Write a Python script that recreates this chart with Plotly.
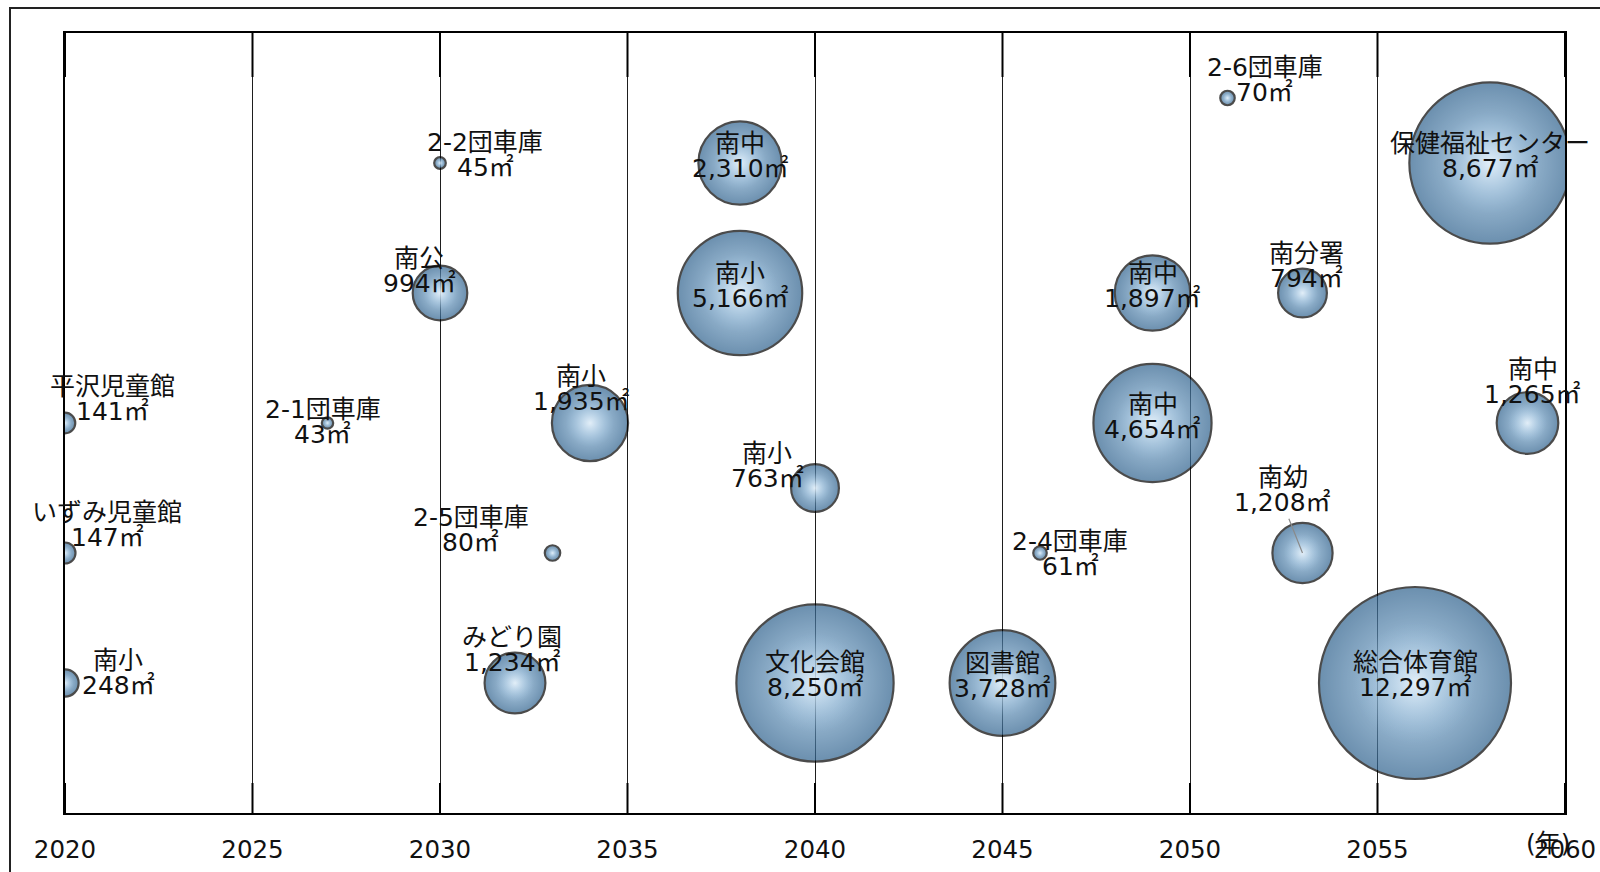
import plotly.graph_objects as go

# ---- data ----
names = ["平沢児童館", "いずみ児童館", "南小", "2-1団車庫", "2-2団車庫", "南公", "2-5団車庫",
         "みどり園", "南小", "南中", "南小", "南小", "文化会館", "図書館", "2-4団車庫",
         "南中", "南中", "2-6団車庫", "南分署", "南幼", "保健福祉センター", "南中", "総合体育館"]
years = [2020, 2020, 2020, 2027, 2030, 2030, 2033,
         2032, 2034, 2038, 2038, 2040, 2040, 2045, 2046,
         2049, 2049, 2051, 2053, 2053, 2058, 2059, 2056]
levels = [3, 2, 1, 3, 5, 4, 2,
          1, 3, 5, 4, 2.5, 1, 1, 2,
          4, 3, 5.5, 4, 2, 5, 3, 1]
areas = [141, 147, 248, 43, 45, 994, 80,
         1234, 1935, 2310, 5166, 763, 8250, 3728, 61,
         1897, 4654, 70, 794, 1208, 8677, 1265, 12297]
tick_years = [2020, 2025, 2030, 2035, 2040, 2045, 2050, 2055, 2060]
tick_text = [str(t) for t in tick_years]

# ---- label placement (pixels: right, up) ----
label_dx = [47, 42, 53, -5, 45, -21, -82, -3, -9, 0, 0, -48, 0, 0, 30, 0, 0, 37, 4, -20, 0, 5, 0]
label_dy = [24, 28, 10, 1, 8, 22, 23, 33, 34, 7, 7, 22, 8, 7, -1, 7, 6, 18, 27, 63, 7, 41, 8]
leader = [False] * len(names)
leader[19] = True

FONT = "DejaVu Sans, Noto Sans CJK JP, sans-serif"
FS = 25
MAX_D = 192
sizeref = 2.0 * max(areas) / (MAX_D ** 2)
highlight_areas = [a * 0.4 for a in areas]

fig = go.Figure()
# sphere body
fig.add_trace(go.Scatter(
    x=years, y=levels, mode="markers",
    marker=dict(size=areas, sizemode="area", sizeref=sizeref,
                color="#2e618d",
                gradient=dict(type="radial", color="#9cc4e4"),
                line=dict(color="#000000", width=2.2)),
    cliponaxis=True, hoverinfo="skip", showlegend=False,
))
# soft highlight
fig.add_trace(go.Scatter(
    x=years, y=levels, mode="markers",
    marker=dict(size=highlight_areas, sizemode="area", sizeref=sizeref,
                color="rgba(156,196,228,0)",
                gradient=dict(type="radial", color="rgba(247,251,254,0.95)"),
                line=dict(width=0)),
    cliponaxis=True, hoverinfo="skip", showlegend=False,
))

LINE_H = 25.5
annotations = []
for n, x, y, a, dx, dy, ld in zip(names, years, levels, areas, label_dx, label_dy, leader):
    annotations.append(dict(
        x=x, y=y, xref="x", yref="y", text=n, showarrow=False,
        xshift=dx, yshift=dy + LINE_H / 2, xanchor="center", yanchor="middle",
        font=dict(family=FONT, size=FS, color="#111")))
    if ld:
        annotations.append(dict(
            x=x, y=y, xref="x", yref="y", text=f"{a:,}㎡", showarrow=True,
            ax=dx, ay=-(dy - LINE_H / 2), axref="pixel", ayref="pixel",
            arrowhead=0, arrowwidth=1.2, arrowcolor="#8a8a8a", standoff=0,
            xanchor="center", yanchor="middle",
            font=dict(family=FONT, size=FS, color="#111")))
    else:
        annotations.append(dict(
            x=x, y=y, xref="x", yref="y", text=f"{a:,}㎡", showarrow=False,
            xshift=dx, yshift=dy - LINE_H / 2, xanchor="center", yanchor="middle",
            font=dict(family=FONT, size=FS, color="#111")))

annotations.append(dict(
    x=0.9893, y=-0.0385, xref="paper", yref="paper", text="(年)", showarrow=False,
    xanchor="center", yanchor="middle", font=dict(family=FONT, size=FS, color="#111")))

PLOT_H = 780.0
shapes = []
for t in tick_years:
    shapes.append(dict(type="line", xref="x", yref="paper", x0=t, x1=t, y0=1, y1=1 - 44 / PLOT_H,
                       line=dict(color="#000", width=2), layer="above"))
    shapes.append(dict(type="line", xref="x", yref="paper", x0=t, x1=t, y0=0, y1=30 / PLOT_H,
                       line=dict(color="#000", width=2), layer="above"))
# outer frame
shapes.append(dict(type="rect", xref="paper", yref="paper",
                   x0=(10 - 65) / 1500, x1=1.04, y0=-0.12, y1=(813 - 8) / PLOT_H,
                   line=dict(color="#222", width=2), fillcolor="rgba(0,0,0,0)", layer="above"))

fig.update_layout(
    width=1600, height=872,
    margin=dict(l=65, r=35, t=33, b=59),
    paper_bgcolor="white", plot_bgcolor="white",
    font=dict(family=FONT, color="#111"),
    xaxis=dict(range=[2020, 2060], tickvals=tick_years, ticktext=tick_text,
               showgrid=True, gridcolor="#1e1e1e", gridwidth=1.2,
               showline=True, linecolor="#000", linewidth=2, mirror=True,
               ticks="", zeroline=False, automargin=False,
               tickfont=dict(family=FONT, size=24.5, color="#111"),
               ticklabelstandoff=14),
    yaxis=dict(range=[0, 6], showgrid=False, zeroline=False, showticklabels=False,
               showline=True, linecolor="#000", linewidth=1.5, mirror=True, ticks="",
               automargin=False),
    annotations=annotations,
    shapes=shapes,
    showlegend=False,
)

fig.write_html("out.html")
